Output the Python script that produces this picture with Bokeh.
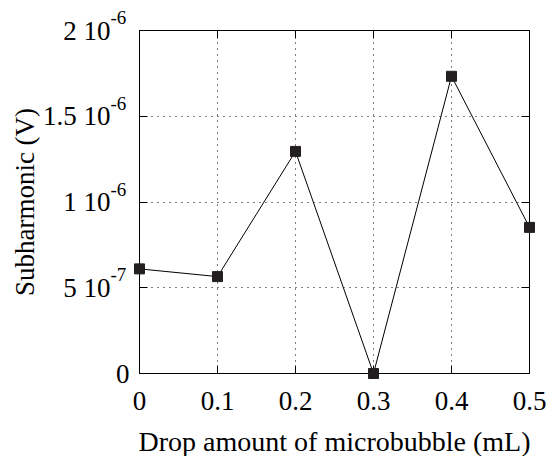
from bokeh.plotting import figure
from bokeh.models import (ColumnDataSource, Range1d, FixedTicker, LinearAxis)
from bokeh.core.properties import value
from bokeh.embed import file_html
from bokeh.resources import INLINE

# data
drop_ml = [0.0, 0.1, 0.2, 0.3, 0.4, 0.5]
subharmonic_v = [6.1e-7, 5.65e-7, 1.295e-6, 0.0, 1.733e-6, 8.52e-7]

x_ticks = [0.0, 0.1, 0.2, 0.3, 0.4, 0.5]
x_tick_labels = ["0", "0.1", "0.2", "0.3", "0.4", "0.5"]
y_ticks = [0.0, 5e-7, 1e-6, 1.5e-6, 2e-6]
y_tick_base = ["0", "5 10", "1 10", "1.5 10", "2 10"]
y_tick_exp = ["", "-7", "-6", "-6", "-6"]
x_title = "Drop amount of microbubble (mL)"
y_title = "Subharmonic (V)"

FONT = "Liberation Serif"

p = figure(frame_width=390, frame_height=343, output_backend="svg", toolbar_location=None,
           x_range=Range1d(0, 0.5), y_range=Range1d(0, 2e-6),
           min_border_left=139, min_border_right=18, min_border_top=30,
           min_border_bottom=83)
p.background_fill_color = "white"
p.border_fill_color = "white"
p.outline_line_color = "black"
p.outline_line_width = 1

for ax in (p.xaxis[0], p.yaxis[0]):
    ax.major_tick_in = 8
    ax.major_tick_out = 0
    ax.minor_tick_line_color = None
    ax.axis_line_color = "black"
    ax.major_tick_line_color = "black"
    ax.major_label_text_font = FONT
    ax.major_label_text_font_size = "27px"
    ax.major_label_text_color = "black"

p.xaxis[0].ticker = FixedTicker(ticks=x_ticks)
p.xaxis[0].major_label_overrides = {t: s for t, s in zip(x_ticks, x_tick_labels)}
p.xaxis[0].major_label_standoff = 18

p.yaxis[0].ticker = FixedTicker(ticks=y_ticks)
p.yaxis[0].major_label_text_color = None
p.yaxis[0].major_label_text_font_size = "1px"
p.yaxis[0].major_label_standoff = 0

# mirrored tick axes on top and right (ticks only)
top = LinearAxis(ticker=FixedTicker(ticks=x_ticks), major_tick_in=8, major_tick_out=0,
                 minor_tick_line_color=None, axis_line_color=None,
                 major_label_text_color=None, major_label_text_font_size="1px",
                 major_label_standoff=0)
right = LinearAxis(ticker=FixedTicker(ticks=y_ticks), major_tick_in=8, major_tick_out=0,
                   minor_tick_line_color=None, axis_line_color=None,
                   major_label_text_color=None, major_label_text_font_size="1px",
                   major_label_standoff=0)
p.add_layout(top, "above")
p.add_layout(right, "right")

p.xgrid.ticker = FixedTicker(ticks=x_ticks)
p.ygrid.ticker = FixedTicker(ticks=y_ticks)
for g in (p.xgrid[0], p.ygrid[0]):
    g.grid_line_color = "black"
    g.grid_line_dash = "1 5"
    g.grid_line_width = 1

# y tick labels with superscript exponents (drawn unclipped at overlay level)
n = len(y_ticks)
base_src = ColumnDataSource(dict(x=[0.0] * n, y=y_ticks, t=y_tick_base,
                                 xo=[-29 if e else -10 for e in y_tick_exp]))
p.text("x", "y", text="t", source=base_src, x_offset="xo", y_offset=0,
       text_align="right", text_baseline="middle", text_font=value(FONT),
       text_font_size="27px", text_color="black", level="overlay")
exp_src = ColumnDataSource(dict(x=[0.0] * n, y=y_ticks, t=y_tick_exp))
p.text("x", "y", text="t", source=exp_src, x_offset=-29, y_offset=-13,
       text_align="left", text_baseline="middle", text_font=value(FONT),
       text_font_size="19px", text_color="black", level="overlay")

# axis titles
p.text(x=[0.0], y=[1e-6], text=[y_title], angle=90, angle_units="deg",
       x_offset=-115, y_offset=0, text_align="center", text_baseline="middle",
       text_font=value(FONT), text_font_size="27px", text_color="black", level="overlay")
p.text(x=[0.25], y=[0.0], text=[x_title], x_offset=0, y_offset=68,
       text_align="center", text_baseline="middle",
       text_font=value(FONT), text_font_size="28px", text_color="black", level="overlay")

src = ColumnDataSource(dict(x=drop_ml, y=subharmonic_v))
p.line("x", "y", source=src, line_color="black", line_width=1, level="overlay")
p.scatter("x", "y", source=src, marker="square", size=10, fill_color="#231f20",
          line_color="#231f20", level="overlay")

open("out.html", "w").write(file_html(p, INLINE))
